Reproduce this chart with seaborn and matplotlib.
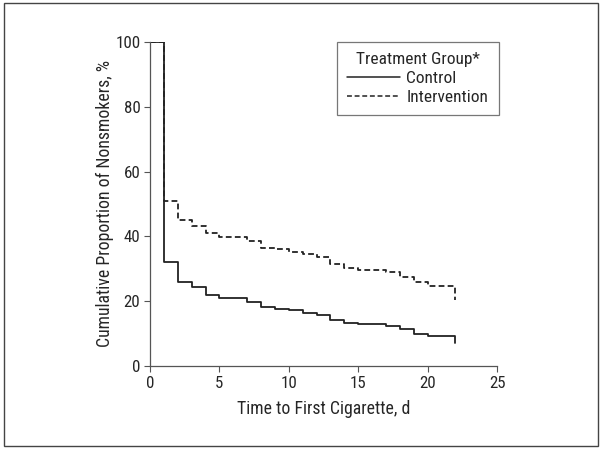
"""
Kaplan-Meier style step curves: time to first cigarette by treatment group
"""

import numpy as np
import pandas as pd
import matplotlib
matplotlib.use("Agg")
import matplotlib.pyplot as plt
from matplotlib import font_manager
from matplotlib.patches import Rectangle
import seaborn as sns

# ---------------------------------------------------------------------------
# Data
# ---------------------------------------------------------------------------
days = [0, 1, 2, 3, 4, 5, 7, 8, 9, 10, 11, 12, 13, 14, 15, 17, 18, 19, 20, 22, 22]
control = [100, 32, 26, 24.3, 22, 21, 19.7, 18.1, 17.6, 17.2, 16.5, 15.6,
           14.2, 13.3, 12.9, 12.3, 11.3, 10, 9.2, 9.2, 7]
intervention = [100, 51, 45, 43.3, 41, 39.8, 38.5, 36.5, 36.2, 35.3, 34.6, 33.5,
                31.6, 30.3, 29.6, 29, 27.6, 25.8, 24.7, 24.7, 20.5]
groups = ["Control", "Intervention"]
x_ticks = [0, 5, 10, 15, 20, 25]
y_ticks = [0, 20, 40, 60, 80, 100]

df = pd.concat([
    pd.DataFrame({"day": days, "pct": control, "group": groups[0]}),
    pd.DataFrame({"day": days, "pct": intervention, "group": groups[1]}),
], ignore_index=True)

# ---------------------------------------------------------------------------
# Style
# ---------------------------------------------------------------------------
sns.set_style("ticks")
installed = {f.name for f in font_manager.fontManager.ttflist}
family = [f for f in ["Liberation Sans Narrow", "Roboto Condensed", "Liberation Sans"]
          if f in installed] + ["DejaVu Sans"]
plt.rcParams["font.family"] = family
plt.rcParams["font.size"] = 12

ink = "#222222"
axis_col = "#555555"

fig = plt.figure(figsize=(6.01, 4.49), dpi=100)
ax = fig.add_axes([0.2496, 0.1849, 0.827 - 0.2496, 0.9065 - 0.1849])

sns.lineplot(data=df, x="day", y="pct", hue="group", style="group",
             palette={g: ink for g in groups},
             dashes={"Control": "", "Intervention": (3.2, 1.8)},
             estimator=None, sort=False, drawstyle="steps-post",
             linewidth=1.3, ax=ax)

ax.set_xlim(0, 25)
ax.set_ylim(0, 100)
ax.set_xticks(x_ticks)
ax.set_yticks(y_ticks)
ax.set_xlabel("Time to First Cigarette, d", fontsize=12.8, labelpad=7)
ax.set_ylabel("Cumulative Proportion of Nonsmokers, %", fontsize=12.8, labelpad=1)
ax.tick_params(length=4, width=0.8, color=axis_col, labelsize=12.2, pad=3)
for side in ["top", "right"]:
    ax.spines[side].set_visible(False)
for side in ["left", "bottom"]:
    ax.spines[side].set_color(axis_col)
    ax.spines[side].set_linewidth(0.9)

leg = ax.legend(title="Treatment Group*", loc="upper right",
                bbox_to_anchor=(1.005, 1.0), borderaxespad=0,
                fancybox=False, frameon=True, edgecolor=axis_col,
                handlelength=3.0, handletextpad=0.4, borderpad=0.6,
                labelspacing=0.2, fontsize=12.5, title_fontsize=12.5)
leg.get_frame().set_linewidth(0.9)
for line in leg.get_lines():
    line.set_linewidth(1.1)

# outer border of the figure panel
fig.patches.append(Rectangle((0.006, 0.007), 0.989, 0.986, transform=fig.transFigure,
                             fill=False, edgecolor="#444444", linewidth=1.0))

plt.savefig("out.png", dpi=100)
plt.close()
